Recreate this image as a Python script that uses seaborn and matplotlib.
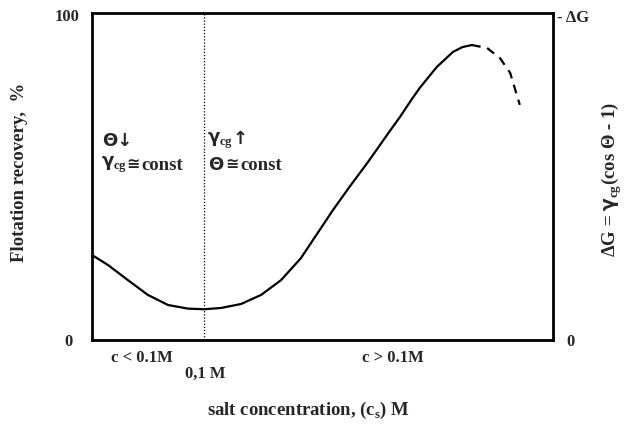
import matplotlib
matplotlib.use("Agg")
import matplotlib.pyplot as plt
import seaborn as sns
import pandas as pd

# ---- data ----
solid_x = [0.000, 0.035, 0.078, 0.121, 0.165, 0.208, 0.243, 0.280, 0.323, 0.367,
           0.410, 0.453, 0.488, 0.523, 0.560, 0.597, 0.646, 0.668, 0.694, 0.711,
           0.748, 0.783, 0.804, 0.824]
solid_y = [26.0, 22.9, 18.3, 13.8, 10.7, 9.6, 9.4, 9.8, 11.0, 13.8,
           18.3, 25.0, 32.4, 39.8, 47.1, 54.1, 63.9, 68.2, 73.7, 77.1,
           83.5, 88.1, 89.6, 90.2]
dash_x = [0.824, 0.857, 0.885, 0.907, 0.928]
dash_y = [90.2, 89.3, 86.2, 81.7, 71.9]
divider_x = 0.243
left_ticks = ["0", "100"]
right_ticks = ["0", "- ΔG"]

sns.set_theme(style="white")
plt.rcParams["font.family"] = ["Liberation Serif", "DejaVu Sans"]
plt.rcParams["font.weight"] = "bold"
plt.rcParams["mathtext.fontset"] = "custom"
plt.rcParams["mathtext.rm"] = "Liberation Serif:bold"
plt.rcParams["mathtext.bf"] = "Liberation Serif:bold"
plt.rcParams["mathtext.it"] = "DejaVu Sans:bold"

W, H = 627, 425
fig = plt.figure(figsize=(W / 100, H / 100), dpi=100)
L, R, B, T = 92, 553, 340, 13
ax = fig.add_axes([L / W, 1 - B / H, (R - L) / W, (B - T) / H])

df_s = pd.DataFrame({"x": solid_x, "y": solid_y})
df_d = pd.DataFrame({"x": dash_x, "y": dash_y})
sns.lineplot(data=df_s, x="x", y="y", ax=ax, color="black", lw=1.6)
sns.lineplot(data=df_d, x="x", y="y", ax=ax, color="black", lw=1.6,
             linestyle=(0, (4, 3)))
ax.axvline(divider_x, color="black", lw=0.9, linestyle=(0, (1, 1.5)))

ax.set_xlim(0, 1)
ax.set_ylim(0, 100)
ax.set_xticks([])
ax.set_yticks([])
ax.set_xlabel("")
ax.set_ylabel("")
for s in ax.spines.values():
    s.set_visible(True)
    s.set_color("black")
    s.set_linewidth(2)


def txt(x, y, s, size=11.5, ha="left", va="center", **kw):
    fig.text(x / W, 1 - y / H, s, fontsize=size, ha=ha, va=va,
             fontweight="bold", **kw)


# tick-like labels
txt(80, 17, left_ticks[1], ha="right", size=12)
txt(73, 342, left_ticks[0], ha="right", size=12)
txt(557, 18, right_ticks[1], ha="left", size=12,
    family=["Liberation Serif", "DejaVu Sans"])
txt(566, 342, right_ticks[0], ha="left", size=12)

# x-region labels
txt(111, 358, "c < 0.1M", size=12)
txt(185, 374, "0,1 M", size=12)
txt(362, 358, "c > 0.1M", size=12)
txt(309, 410, r"salt concentration, (c$_{\mathrm{s}}$) M", ha="center", size=13.5)

# axis titles
txt(20, 172, "Flotation recovery,  %", ha="center", rotation=90, size=13.5)
txt(612, 180, r"ΔG = $\gamma_{\mathrm{cg}}$(cos Θ - 1)", ha="center",
    rotation=90, size=13.5)

# annotations
txt(102, 141, "Θ↓", size=13, family=["DejaVu Sans"])
txt(101, 165, r"$\gamma_{\mathrm{cg}}$", size=13)
txt(126, 165, "≅", size=11.5, family=["DejaVu Sans"])
txt(141, 165, "const", size=13.5)
txt(207, 141, r"$\gamma_{\mathrm{cg}}$", size=13)
txt(233, 139, "↑", size=13, family=["DejaVu Sans"])
txt(208, 165, "Θ", size=13, family=["DejaVu Sans"])
txt(225, 165, "≅", size=11.5, family=["DejaVu Sans"])
txt(240, 165, "const", size=13.5)

fig.savefig("out.png", dpi=100)
